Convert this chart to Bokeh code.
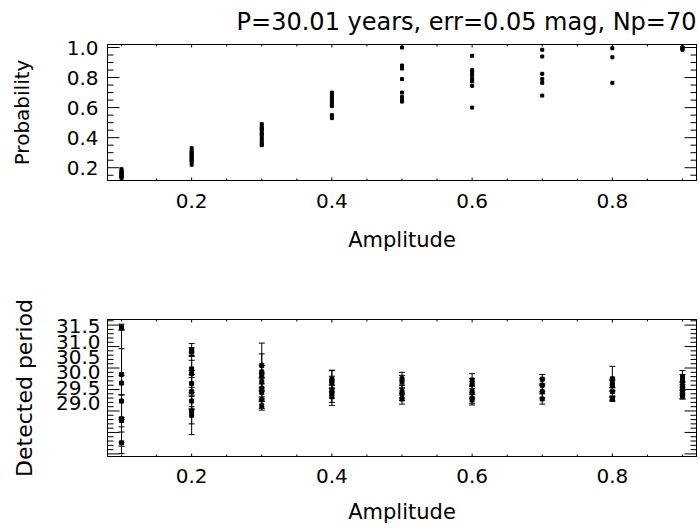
import numpy as np
from bokeh.plotting import figure
from bokeh.models import (Range1d, LinearAxis, FixedTicker, ColumnDataSource,
                          Whisker, TeeHead, CustomJSTickFormatter)
from bokeh.layouts import column
from bokeh.embed import file_html
from bokeh.resources import INLINE

FONT = "DejaVu Sans"

# ---------------- data ----------------
amplitudes = [0.1, 0.2, 0.3, 0.4, 0.5, 0.6, 0.7, 0.8, 0.9]

# detection probability per amplitude (trials)
prob_a01 = [0.19, 0.18, 0.17, 0.17, 0.16, 0.15, 0.15, 0.14, 0.14, 0.13]
prob_a02 = [0.33, 0.31, 0.30, 0.29, 0.28, 0.27, 0.26, 0.25, 0.24, 0.22]
prob_a03 = [0.49, 0.47, 0.46, 0.45, 0.43, 0.42, 0.40, 0.38, 0.36, 0.35]
prob_a04 = [0.70, 0.68, 0.66, 0.64, 0.62, 0.61, 0.55, 0.53]
prob_a05 = [1.00, 0.88, 0.86, 0.79, 0.70, 0.67, 0.65, 0.64]
prob_a06 = [0.945, 0.85, 0.835, 0.815, 0.79, 0.775, 0.745, 0.60]
prob_a07 = [0.985, 0.94, 0.825, 0.79, 0.765, 0.68]
prob_a08 = [0.995, 0.935, 0.765]
prob_a09 = [1.00, 1.00, 0.99, 0.985]

# detected period and its error per amplitude
period_a01 = [31.45, 30.35, 30.15, 29.73, 29.32, 29.28, 28.76]
err_a01 = [0.07, 1.05, 0.80, 0.60, 0.55, 0.60, 0.25]
period_a02 = [30.93, 30.87, 30.48, 30.37, 30.14, 29.95, 29.73, 29.50, 29.40]
err_a02 = [0.14, 0.10, 0.20, 0.50, 0.30, 0.40, 0.20, 0.55, 0.20]
period_a03 = [30.56, 30.41, 30.33, 30.18, 30.03, 29.93, 29.76, 29.62]
err_a03 = [0.52, 0.15, 0.50, 0.20, 0.25, 0.20, 0.20, 0.10]
period_a04 = [30.24, 30.20, 30.16, 29.95, 29.90, 29.83]
err_a04 = [0.20, 0.25, 0.15, 0.15, 0.20, 0.20]
period_a05 = [30.25, 30.18, 29.95, 29.89, 29.78]
err_a05 = [0.15, 0.15, 0.15, 0.15, 0.12]
period_a06 = [30.22, 30.14, 29.95, 29.80, 29.76]
err_a06 = [0.15, 0.12, 0.15, 0.12, 0.12]
period_a07 = [30.24, 30.10, 29.95, 29.78]
err_a07 = [0.11, 0.15, 0.15, 0.12]
period_a08 = [30.25, 30.14, 30.09, 29.95, 29.78, 29.78]
err_a08 = [0.29, 0.10, 0.12, 0.10, 0.05, 0.05]
period_a09 = [30.30, 30.20, 30.09, 29.99, 29.88, 29.85]
err_a09 = [0.14, 0.15, 0.10, 0.12, 0.10, 0.07]

x_ticks = [0.2, 0.4, 0.6, 0.8]
x_minor_ticks = [0.1, 0.15, 0.25, 0.3, 0.35, 0.45, 0.5, 0.55, 0.65, 0.7,
                 0.75, 0.85, 0.9]
x_tick_labels = ["0.2", "0.4", "0.6", "0.8"]
prob_ticks = [0.2, 0.4, 0.6, 0.8, 1.0]
prob_minor_ticks = [0.15, 0.25, 0.3, 0.35, 0.45, 0.5, 0.55, 0.65, 0.7, 0.75,
                    0.85, 0.9, 0.95]
prob_tick_labels = ["0.2", "0.4", "0.6", "0.8", "1.0"]
period_ticks = [28.5, 29.0, 29.5, 30.0, 30.5, 31.0, 31.5]
period_minor_ticks = [28.6, 28.7, 28.8, 28.9, 29.1, 29.2, 29.3, 29.4, 29.6,
                      29.7, 29.8, 29.9, 30.1, 30.2, 30.3, 30.4, 30.6, 30.7,
                      30.8, 30.9, 31.1, 31.2, 31.3, 31.4, 31.6]
period_label_values = [29.0, 29.5, 30.0, 30.5, 31.0, 31.5]
period_tick_labels = ["29.0", "29.5", "30.0", "30.5", "31.0", "31.5"]

title_text = "P=30.01 years, err=0.05 mag, Np=70"

prob_lists = [prob_a01, prob_a02, prob_a03, prob_a04, prob_a05,
              prob_a06, prob_a07, prob_a08, prob_a09]
period_lists = [period_a01, period_a02, period_a03, period_a04, period_a05,
                period_a06, period_a07, period_a08, period_a09]
err_lists = [err_a01, err_a02, err_a03, err_a04, err_a05,
             err_a06, err_a07, err_a08, err_a09]

px, py = [], []
for a, vals in zip(amplitudes, prob_lists):
    px += [a] * len(vals)
    py += vals
prob_src = ColumnDataSource(dict(x=px, y=py))

qx, qy, qlo, qhi = [], [], [], []
for a, vals, errs in zip(amplitudes, period_lists, err_lists):
    for v, e in zip(vals, errs):
        qx.append(a); qy.append(v); qlo.append(v - e); qhi.append(v + e)
per_src = ColumnDataSource(dict(x=qx, y=qy, lower=qlo, upper=qhi))

blank = CustomJSTickFormatter(code="return ''")

X0, X1 = 0.08, 0.92


def style_common(p):
    p.xgrid.visible = False
    p.ygrid.visible = False
    p.outline_line_color = "black"
    p.outline_line_width = 1
    p.background_fill_color = "white"
    p.border_fill_color = "white"


def quiet_axis(ax, ticks):
    ax.ticker = FixedTicker(ticks=ticks, minor_ticks=[])
    ax.major_tick_in = 0
    ax.major_tick_out = 0
    ax.minor_tick_in = 0
    ax.minor_tick_out = 0
    ax.axis_line_color = "black"


def label_axis(ax, ticks, labels, size="20px", standoff=8):
    ax.major_label_overrides = {v: s for v, s in zip(ticks, labels)}
    ax.major_label_text_font = FONT
    ax.major_label_text_font_size = size
    ax.major_label_text_color = "black"
    ax.major_label_standoff = standoff


def axis_title(ax, text, size="20px", standoff=10):
    ax.axis_label = text
    ax.axis_label_text_font = FONT
    ax.axis_label_text_font_size = size
    ax.axis_label_text_font_style = "normal"
    ax.axis_label_text_color = "black"
    ax.axis_label_standoff = standoff


def inward_ticks(p, y0, y1, yticks, yminor):
    # IDL-style inward ticks on all four sides (half of each dash is clipped
    # away by the frame, leaving an inward tick)
    for yy in (y0, y1):
        p.scatter(x=x_ticks, y=[yy] * len(x_ticks), marker="dash", angle=np.pi / 2,
                  size=6, line_color="black", line_width=1)
        p.scatter(x=x_minor_ticks, y=[yy] * len(x_minor_ticks), marker="dash",
                  angle=np.pi / 2, size=4, line_color="black", line_width=1)
    for xx in (X0, X1):
        p.scatter(x=[xx] * len(yticks), y=yticks, marker="dash", size=24,
                  line_color="black", line_width=1)
        p.scatter(x=[xx] * len(yminor), y=yminor, marker="dash", size=12,
                  line_color="black", line_width=1)


W = 698
# ---------------- top panel ----------------
P_Y0, P_Y1 = 0.115, 1.02
p1 = figure(width=W, height=273, output_backend="svg", toolbar_location=None,
            x_range=Range1d(X0, X1), y_range=Range1d(P_Y0, P_Y1),
            min_border_left=107, min_border_right=2, min_border_top=42,
            min_border_bottom=93, title=title_text)
style_common(p1)
p1.title.align = "right"
p1.title.vertical_align = "top"
p1.title.text_font = FONT
p1.title.text_font_size = "24px"
p1.title.text_font_style = "normal"
p1.title.text_color = "black"
p1.title.standoff = 14

quiet_axis(p1.xaxis[0], x_ticks)
label_axis(p1.xaxis[0], x_ticks, x_tick_labels, standoff=13)
axis_title(p1.xaxis[0], "Amplitude", size="21px", standoff=17)
quiet_axis(p1.yaxis[0], prob_ticks)
label_axis(p1.yaxis[0], prob_ticks, prob_tick_labels, standoff=9)
axis_title(p1.yaxis[0], "Probability", standoff=30)

top_ax = LinearAxis(formatter=blank, major_label_standoff=0)
quiet_axis(top_ax, x_ticks)
p1.add_layout(top_ax, "above")
right_ax = LinearAxis(formatter=blank, major_label_standoff=0)
quiet_axis(right_ax, prob_ticks)
p1.add_layout(right_ax, "right")

inward_ticks(p1, P_Y0, P_Y1, prob_ticks, prob_minor_ticks)
p1.scatter("x", "y", source=prob_src, marker="square", size=3,
           fill_color="black", line_color="black")

# ---------------- bottom panel ----------------
D_Y0, D_Y1 = 28.44, 31.63
p2 = figure(width=W, height=258, output_backend="svg", toolbar_location=None,
            x_range=Range1d(X0, X1), y_range=Range1d(D_Y0, D_Y1),
            min_border_left=107, min_border_right=2, min_border_top=46,
            min_border_bottom=75)
style_common(p2)
quiet_axis(p2.xaxis[0], x_ticks)
label_axis(p2.xaxis[0], x_ticks, x_tick_labels, standoff=12)
axis_title(p2.xaxis[0], "Amplitude", size="21px", standoff=14)
quiet_axis(p2.yaxis[0], period_ticks)
p2.yaxis[0].formatter = blank
p2.yaxis[0].major_label_standoff = 0

# tick labels of the period axis, as laid out in the original figure
p2.extra_y_ranges = {"lab": Range1d(27.274, 31.717)}
lab_ax = LinearAxis(y_range_name="lab")
quiet_axis(lab_ax, period_label_values)
lab_ax.axis_line_color = None
label_axis(lab_ax, period_label_values, period_tick_labels, standoff=7)
axis_title(lab_ax, "Detected period", size="22px", standoff=16)
p2.add_layout(lab_ax, "left")

top_ax2 = LinearAxis(formatter=blank, major_label_standoff=0)
quiet_axis(top_ax2, x_ticks)
p2.add_layout(top_ax2, "above")
right_ax2 = LinearAxis(formatter=blank, major_label_standoff=0)
quiet_axis(right_ax2, period_ticks)
p2.add_layout(right_ax2, "right")

inward_ticks(p2, D_Y0, D_Y1, period_ticks, period_minor_ticks)

wh = Whisker(source=per_src, base="x", lower="lower", upper="upper",
             dimension="height", line_color="black", line_width=1,
             upper_head=TeeHead(size=6, line_color="black", line_width=1),
             lower_head=TeeHead(size=6, line_color="black", line_width=1))
p2.add_layout(wh)
p2.scatter("x", "y", source=per_src, marker="square", size=4,
           fill_color="black", line_color="black")

layout = column(p1, p2, spacing=0)
open("out.html", "w").write(file_html(layout, INLINE))
